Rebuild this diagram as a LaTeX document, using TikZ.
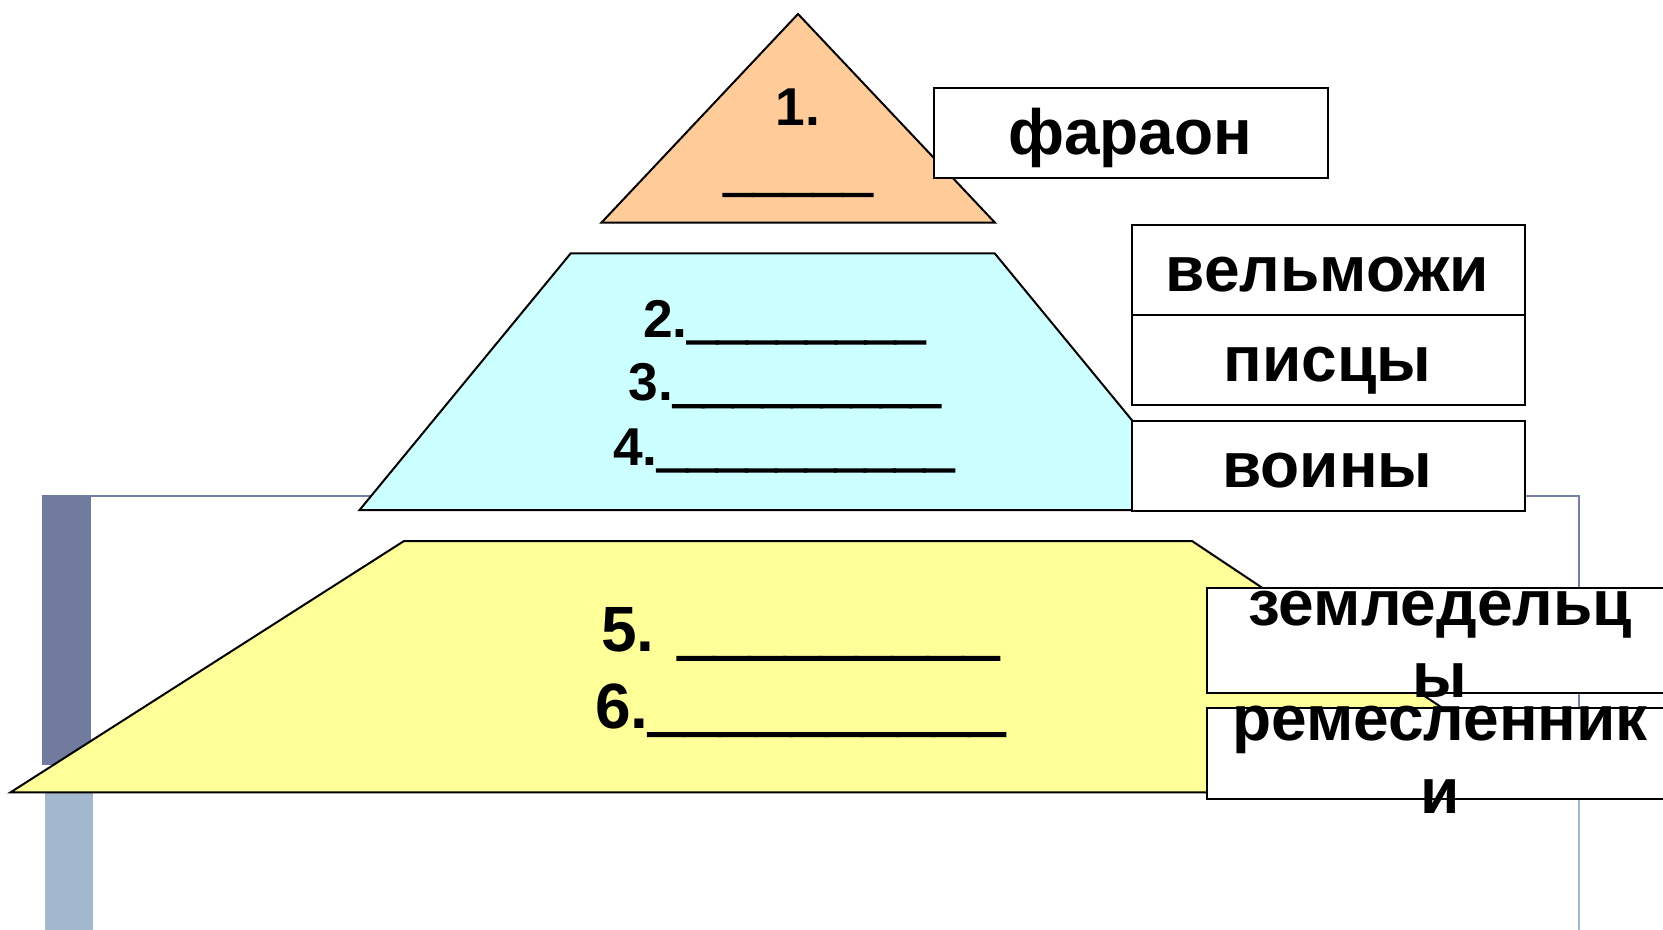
\documentclass[tikz,border=0pt]{standalone}
\usepackage{fontspec}
\setmainfont{Liberation Sans}
\newfontface\ulfont{Liberation Sans Bold}[FakeBold=4]
\newcommand{\ul}[1]{{\ulfont #1}}
\definecolor{orangeFill}{HTML}{FFCC99}
\definecolor{cyanFill}{HTML}{CCFFFF}
\definecolor{yellowFill}{HTML}{FFFF99}
\definecolor{barDark}{HTML}{717B9E}
\definecolor{barLight}{HTML}{A3B8CE}
\definecolor{frameDark}{HTML}{7480A6}
\definecolor{frameLight}{HTML}{A3B8CE}
\tikzset{
  shapeline/.style={draw=black, line width=1pt, line join=miter},
  lbox/.style={draw=black, line width=1pt, fill=white, rectangle, inner sep=0pt, anchor=north west},
  lbl/.style={anchor=base, inner sep=0pt, font=\bfseries\fontsize{32}{38}\selectfont},
  num/.style={anchor=base, inner sep=0pt, font=\bfseries\fontsize{26.65}{32}\selectfont},
  bignum/.style={anchor=base, inner sep=0pt, font=\bfseries\fontsize{32}{38}\selectfont},
}
\begin{document}
\begin{tikzpicture}[x=0.5pt,y=-0.5pt]
\useasboundingbox (0,0) rectangle (1663,930);
\clip (0,0) rectangle (1663,930);
\fill[white] (0,0) rectangle (1663,930);
% slide frame
\fill[barDark] (42.4,495) rectangle (91.2,765);
\fill[barLight] (44.5,780) rectangle (93.3,930);
\draw[frameDark, line width=1pt] (91.2,495.7) -- (1579,495.7) -- (1579,780);
\draw[frameLight, line width=1pt] (1579,780) -- (1579,930);
% pyramid levels
\filldraw[fill=orangeFill, shapeline] (798,14) -- (995,222.7) -- (601.4,222.7) -- cycle;
\filldraw[fill=cyanFill, shapeline] (570.6,253.5) -- (994.8,253.5) -- (1205.9,510.1) -- (359.5,510.1) -- cycle;
\filldraw[fill=yellowFill, shapeline] (404,541) -- (1192,541) -- (1569,792.3) -- (10.6,792.3) -- cycle;
% texts in the pyramid
\node[num] (n1) at (798,125.7) {1.};
\node[num] (n1u) at (798,189.5) {\ul{\_\_\_\_\_}};
\node[num] (n2) at (784,337) {2.\ul{\_\_\_\_\_\_\_\_}};
\node[num] (n3) at (784.5,400.7) {3.\ul{\_\_\_\_\_\_\_\_\_}};
\node[num] (n4) at (783.5,465) {4.\ul{\_\_\_\_\_\_\_\_\_\_}};
\node[bignum] (n5) at (800,651.7) {5. \ul{\_\_\_\_\_\_\_\_\_}};
\node[bignum] (n6) at (800,728) {6.\ul{\_\_\_\_\_\_\_\_\_\_}};
% answer boxes
\node[lbox, minimum width=196.75pt, minimum height=45pt] (bfar) at (933.3,87) {};
\node[lbox, minimum width=196.7pt, minimum height=45.05pt] (bvel) at (1130.6,223.8) {};
\node[lbox, minimum width=196.7pt, minimum height=45.1pt] (bpis) at (1130.6,313.9) {};
\node[lbox, minimum width=196.7pt, minimum height=45.05pt] (bvoi) at (1130.6,420) {};
\node[lbox, minimum width=234pt, minimum height=52.5pt] (bzem) at (1206,586.5) {};
\node[lbox, minimum width=234pt, minimum height=45.1pt] (brem) at (1206,707.4) {};
% labels
\node[lbl] (lfar) at (1130,155) {фараон};
\node[lbl] (lvel) at (1327.3,292) {вельможи};
\node[lbl] (lpis) at (1327.3,381) {писцы};
\node[lbl] (lvoi) at (1327.3,487) {воины};
\node[lbl] (lzem1) at (1440,625) {земледельц};
\node[lbl] (lzem2) at (1440,697) {ы};
\node[lbl] (lrem1) at (1440,740) {ремесленник};
\node[lbl] (lrem2) at (1440,813) {и};
\end{tikzpicture}
\end{document}
